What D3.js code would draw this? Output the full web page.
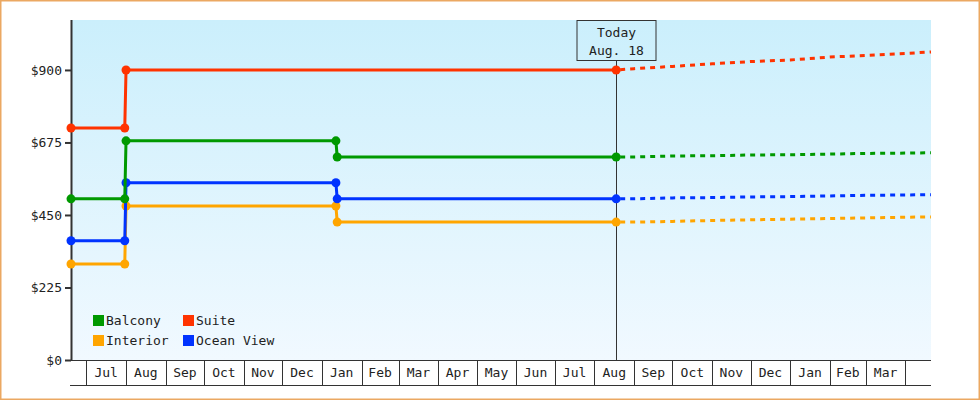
<!DOCTYPE html>
<html>
<head>
<meta charset="utf-8">
<script src="https://cdn.jsdelivr.net/npm/d3@7"></script>
<style>
  html, body { margin: 0; padding: 0; background: #fff; }
  svg { display: block; font-family: "DejaVu Sans Mono", monospace; }
</style>
</head>
<body>
<script>
// price history (step changes) and forecast
const seriesNames = ["Balcony", "Suite", "Interior", "Ocean View"]
const seriesColors = ["#009900", "#ff3300", "#ffa500", "#0033ff"]

// the Suite price only changed once, the others changed twice
const suiteDates = ["2023-06-19", "2023-07-31", "2023-08-01", "2024-08-18"]
const otherDates = ["2023-06-19", "2023-07-31", "2023-08-01", "2024-01-12", "2024-01-13", "2024-08-18"]
const balconyHistory = [500, 500, 680, 680, 630, 630]
const suiteHistory = [720, 720, 900, 900]
const interiorHistory = [298, 298, 478, 478, 428, 428]
const oceanHistory = [370, 370, 550, 550, 500, 500]

const forecastDates = ["2024-08-18", "2024-09-01", "2024-10-01", "2024-11-01", "2024-12-01",
  "2025-01-01", "2025-02-01", "2025-03-01", "2025-04-01", "2025-04-21"]
const balconyForecast = [630, 630, 633, 634, 636, 637, 639, 641, 642, 643]
const suiteForecast = [900, 904, 911, 919, 926, 931, 940, 945, 951, 956]
const interiorForecast = [428, 428, 430, 433, 435, 437, 439, 441, 443, 444]
const oceanForecast = [500, 500, 503, 504, 506, 507, 509, 511, 512, 513]

const yTicks = [0, 225, 450, 675, 900]
const todayDate = "2024-08-18"
const todayLabel = ["Today", "Aug. 18"]

const width = 980
const height = 400
const margin = ({top: 20, right: 49, bottom: 40, left: 71})
const parse = d3.timeParse("%Y-%m-%d")

const histories = [balconyHistory, suiteHistory, interiorHistory, oceanHistory]
const historyDates = [otherDates, suiteDates, otherDates, otherDates]
const forecasts = [balconyForecast, suiteForecast, interiorForecast, oceanForecast]
const series = seriesNames.map((name, i) => ({
  name,
  color: seriesColors[i],
  past: historyDates[i].map((d, j) => ({date: parse(d), value: histories[i][j]})),
  future: forecastDates.map((d, j) => ({date: parse(d), value: forecasts[i][j]}))
}))

const x = d3.scaleTime()
    .domain([parse("2023-06-19"), parse("2025-04-21")])
    .range([margin.left, width - margin.right])

const y = d3.scaleLinear()
    .domain([0, 1055])
    .range([height - margin.bottom, margin.top])

const svg = d3.create("svg")
    .attr("width", width)
    .attr("height", height)

// outer frame
svg.append("rect")
    .attr("x", 0.75).attr("y", 0.75)
    .attr("width", width - 1.5).attr("height", height - 1.5)
    .attr("fill", "white")
    .attr("stroke", "#eba862")
    .attr("stroke-width", 1.5)

const grad = svg.append("defs").append("linearGradient")
    .attr("id", "bg")
    .attr("x1", 0).attr("y1", 0).attr("x2", 0).attr("y2", 1)
grad.append("stop").attr("offset", "0%").attr("stop-color", "#cbeffc")
grad.append("stop").attr("offset", "100%").attr("stop-color", "#f1f9ff")

svg.append("rect")
    .attr("x", margin.left)
    .attr("y", margin.top)
    .attr("width", width - margin.right - margin.left)
    .attr("height", height - margin.bottom - margin.top)
    .attr("fill", "url(#bg)")

// month cells under the plot
const x0 = x.domain()[0], x1 = x.domain()[1]
const months = d3.timeMonth.range(d3.timeMonth.ceil(x0), x1)
const axisY = height - margin.bottom
const xg = svg.append("g").attr("stroke", "#333").attr("shape-rendering", "crispEdges")
xg.append("line")
    .attr("x1", margin.left).attr("x2", width - margin.right)
    .attr("y1", axisY + 0.5).attr("y2", axisY + 0.5)
xg.append("line")
    .attr("x1", margin.left - 1).attr("x2", width - margin.right)
    .attr("y1", axisY + 25).attr("y2", axisY + 25)
xg.selectAll(".div")
  .data(months)
  .join("line")
    .attr("x1", d => Math.round(x(d)) + 0.5)
    .attr("x2", d => Math.round(x(d)) + 0.5)
    .attr("y1", axisY)
    .attr("y2", axisY + 25)

svg.append("g")
    .attr("font-size", 13)
    .attr("fill", "#222")
    .attr("text-anchor", "middle")
  .selectAll("text")
  .data(months.filter(d => d3.timeMonth.offset(d, 1) <= x1))
  .join("text")
    .attr("x", d => (x(d) + x(d3.timeMonth.offset(d, 1))) / 2)
    .attr("y", axisY + 17)
    .text(d3.timeFormat("%b"))

// y axis
const yAxis = g => g
    .attr("transform", `translate(${margin.left},0)`)
    .call(d3.axisLeft(y).tickValues(yTicks).tickSize(6).tickPadding(3).tickFormat(d => "$" + d))
    .call(g => g.select(".domain").remove())
    .call(g => g.selectAll(".tick line").attr("stroke", "#333").attr("stroke-width", 2))
    .call(g => g.selectAll(".tick text").attr("fill", "#222").attr("font-size", 13)
        .attr("font-family", "DejaVu Sans Mono, monospace"))

svg.append("g").call(yAxis)
svg.append("line")
    .attr("x1", margin.left + 0.5).attr("x2", margin.left + 0.5)
    .attr("y1", margin.top).attr("y2", axisY + 1)
    .attr("stroke", "#333")
    .attr("stroke-width", 2)

// today marker
const tx = Math.round(x(parse(todayDate))) + 0.5
svg.append("line")
    .attr("x1", tx).attr("x2", tx)
    .attr("y1", 60).attr("y2", axisY)
    .attr("stroke", "#333")
svg.append("rect")
    .attr("x", tx - 39.5).attr("y", 20.5)
    .attr("width", 79).attr("height", 40)
    .attr("fill", "none")
    .attr("stroke", "#333")
svg.append("g")
    .attr("font-size", 13)
    .attr("fill", "#222")
    .attr("text-anchor", "middle")
  .selectAll("text")
  .data(todayLabel)
  .join("text")
    .attr("x", tx)
    .attr("y", (d, i) => 37 + i * 18)
    .text(d => d)

const line = d3.line()
    .x(d => x(d.date))
    .y(d => y(d.value))

const gSeries = svg.append("g")

// forecasts (dashed) drawn first, then history on top
gSeries.selectAll(".future")
  .data(series)
  .join("path")
    .attr("fill", "none")
    .attr("stroke", d => d.color)
    .attr("stroke-width", 3)
    .attr("stroke-dasharray", "5,5")
    .attr("stroke-dashoffset", -4)
    .attr("d", d => line(d.future))

// draw order so the overlaps look like the original
const order = [2, 3, 0, 1]
order.forEach(i => {
  const s = series[i]
  gSeries.append("path")
    .attr("fill", "none")
    .attr("stroke", s.color)
    .attr("stroke-width", 3)
    .attr("d", line(s.past))
  gSeries.append("g")
    .selectAll("circle")
    .data(s.past)
    .join("circle")
      .attr("cx", d => x(d.date))
      .attr("cy", d => y(d.value))
      .attr("r", 4.5)
      .attr("fill", s.color)
})

// legend
const legend = svg.append("g")
    .attr("font-size", 13)
    .attr("fill", "#222")
  .selectAll("g")
  .data(series)
  .join("g")
    .attr("transform", (d, i) => `translate(${93 + (i % 2) * 90},${315 + Math.floor(i / 2) * 20})`)

legend.append("rect")
    .attr("width", 11)
    .attr("height", 11)
    .attr("fill", d => d.color)
legend.append("text")
    .attr("x", 13)
    .attr("y", 10)
    .text(d => d.name)

document.body.appendChild(svg.node())
</script>
</body>
</html>
